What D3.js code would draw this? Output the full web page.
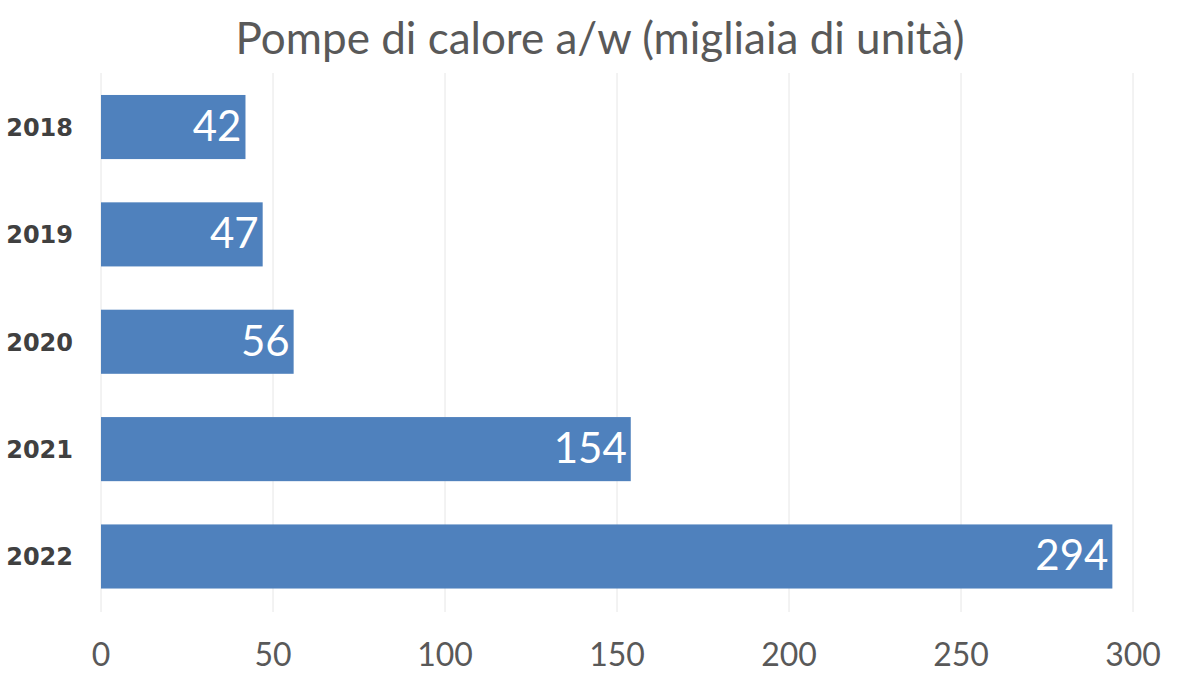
<!DOCTYPE html>
<html><head><meta charset="utf-8">
<script src="https://cdn.jsdelivr.net/npm/d3@7"></script>
<style>body{margin:0;background:#fff}</style>
</head><body>
<svg id="c" width="1200" height="675"></svg>
<script>
const years = ["2018","2019","2020","2021","2022"];
const values = [42,47,56,154,294];
const ticks = [0,50,100,150,200,250,300];

const svg = d3.select("#c");
const x = d3.scaleLinear().domain([0,300]).range([101,1133]);
const y = d3.scaleBand().domain(years).range([73.5,610]).paddingInner(0.403).paddingOuter(0.2);

svg.append("g").selectAll("line").data(ticks).join("line")
  .attr("x1",d=>x(d)).attr("x2",d=>x(d)).attr("y1",73).attr("y2",612)
  .attr("stroke","#e6e6e6").attr("stroke-width",1);

svg.append("g").selectAll("rect").data(years).join("rect")
  .attr("x",x(0)).attr("y",d=>y(d)).attr("height",y.bandwidth())
  .attr("width",(d,i)=>x(values[i])-x(0)).attr("fill","#4f81bd");

svg.append("g").selectAll("text").data(years).join("text")
  .attr("x",(d,i)=>x(values[i])-4).attr("y",d=>y(d)+y.bandwidth()/2+14)
  .attr("text-anchor","end").attr("fill","#fff")
  .attr("font-family","Lato, 'Open Sans', sans-serif").attr("font-size",42)
  .text((d,i)=>values[i]);

svg.append("g").selectAll("text").data(years).join("text")
  .attr("x",73).attr("y",d=>y(d)+y.bandwidth()/2+9)
  .attr("text-anchor","end").attr("fill","#404040").attr("font-weight","bold")
  .attr("font-family","'DejaVu Sans', sans-serif").attr("font-size",24)
  .text(d=>d);

svg.append("g").selectAll("text").data(ticks).join("text")
  .attr("x",d=>x(d)).attr("y",666)
  .attr("text-anchor","middle").attr("fill","#595959")
  .attr("font-family","Lato, 'Open Sans', sans-serif").attr("font-size",32)
  .text(d=>d);

svg.append("text").attr("x",600).attr("y",54).attr("text-anchor","middle")
  .attr("fill","#595959").attr("font-family","Lato, 'Open Sans', sans-serif")
  .attr("font-size",44).text("Pompe di calore a/w (migliaia di unità)");
</script>
</body></html>
